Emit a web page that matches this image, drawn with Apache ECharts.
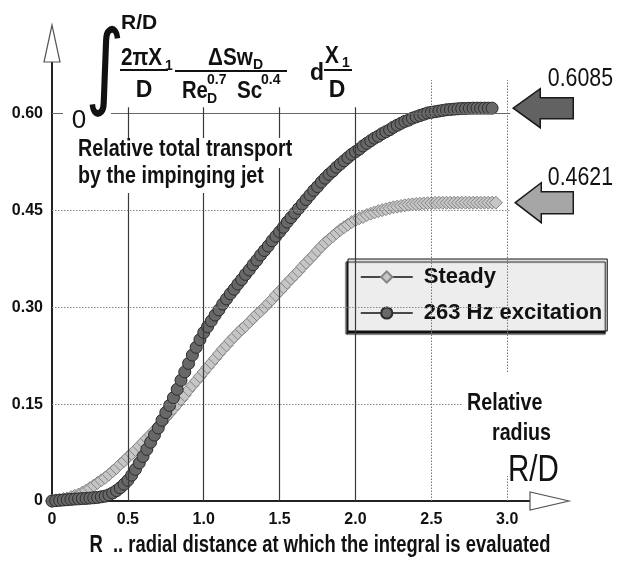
<!DOCTYPE html>
<html>
<head>
<meta charset="utf-8">
<script src="https://cdn.jsdelivr.net/npm/echarts@6/dist/echarts.min.js"></script>
<style>
  html, body { margin: 0; padding: 0; background: #fff; }
  #chart { width: 617px; height: 564px; }
</style>
</head>
<body>
<div id="chart"></div>
<script>
// ---------------- data ----------------
const radiusRD = [
  0.000, 0.025, 0.050, 0.075, 0.100, 0.125, 0.150, 0.175, 0.200, 0.225,
  0.250, 0.275, 0.300, 0.325, 0.350, 0.375, 0.400, 0.425, 0.450, 0.475,
  0.500, 0.525, 0.550, 0.575, 0.600, 0.625, 0.650, 0.675, 0.700, 0.725,
  0.750, 0.775, 0.800, 0.825, 0.850, 0.875, 0.900, 0.925, 0.950, 0.975,
  1.000, 1.025, 1.050, 1.075, 1.100, 1.125, 1.150, 1.175, 1.200, 1.225,
  1.250, 1.275, 1.300, 1.325, 1.350, 1.375, 1.400, 1.425, 1.450, 1.475,
  1.500, 1.525, 1.550, 1.575, 1.600, 1.625, 1.650, 1.675, 1.700, 1.725,
  1.750, 1.775, 1.800, 1.825, 1.850, 1.875, 1.900, 1.925, 1.950, 1.975,
  2.000, 2.025, 2.050, 2.075, 2.100, 2.125, 2.150, 2.175, 2.200, 2.225,
  2.250, 2.275, 2.300, 2.325, 2.350, 2.375, 2.400, 2.425, 2.450, 2.475,
  2.500, 2.525, 2.550, 2.575, 2.600, 2.625, 2.650, 2.675, 2.700, 2.725,
  2.750, 2.775, 2.800, 2.825, 2.850, 2.875, 2.900, 2.925
];

const steadyTransport = [
  0.000, 0.001, 0.002, 0.003, 0.004, 0.006, 0.008, 0.010, 0.013, 0.016,
  0.020, 0.024, 0.028, 0.032, 0.036, 0.041, 0.046, 0.051, 0.057, 0.062,
  0.068, 0.073, 0.079, 0.085, 0.091, 0.097, 0.103, 0.109, 0.115, 0.122,
  0.129, 0.136, 0.143, 0.150, 0.157, 0.164, 0.172, 0.179, 0.186, 0.193,
  0.200, 0.207, 0.214, 0.221, 0.228, 0.235, 0.241, 0.248, 0.254, 0.260,
  0.266, 0.271, 0.277, 0.283, 0.289, 0.294, 0.300, 0.306, 0.312, 0.319,
  0.325, 0.331, 0.338, 0.344, 0.350, 0.356, 0.363, 0.369, 0.375, 0.381,
  0.388, 0.394, 0.400, 0.405, 0.410, 0.415, 0.420, 0.424, 0.428, 0.432,
  0.435, 0.438, 0.440, 0.443, 0.445, 0.447, 0.449, 0.4505, 0.452, 0.4535,
  0.455, 0.456, 0.457, 0.458, 0.459, 0.4595, 0.460, 0.4605, 0.461, 0.4613,
  0.4615, 0.4617, 0.4619, 0.462, 0.462, 0.462, 0.462, 0.462, 0.4621, 0.4621,
  0.4621, 0.4621, 0.4621, 0.4621, 0.4621, 0.4621, 0.4621, 0.4621
];

const excitedTransport = [
  0.000, 0.0005, 0.001, 0.0015, 0.002, 0.0025, 0.003, 0.0033, 0.0037, 0.004,
  0.0045, 0.005, 0.0055, 0.0065, 0.0075, 0.0095, 0.0125, 0.016, 0.0205, 0.026,
  0.032, 0.040, 0.049, 0.059, 0.069, 0.080, 0.091, 0.102, 0.113, 0.125,
  0.137, 0.148, 0.160, 0.173, 0.187, 0.200, 0.213, 0.226, 0.238, 0.250,
  0.261, 0.270, 0.279, 0.288, 0.296, 0.305, 0.313, 0.321, 0.328, 0.336,
  0.343, 0.351, 0.358, 0.366, 0.373, 0.381, 0.388, 0.395, 0.403, 0.410,
  0.417, 0.424, 0.432, 0.439, 0.446, 0.453, 0.460, 0.467, 0.474, 0.481,
  0.487, 0.494, 0.500, 0.506, 0.511, 0.517, 0.522, 0.527, 0.532, 0.537,
  0.541, 0.545, 0.550, 0.554, 0.558, 0.562, 0.565, 0.569, 0.572, 0.575,
  0.579, 0.582, 0.585, 0.588, 0.590, 0.593, 0.595, 0.597, 0.599, 0.601,
  0.602, 0.603, 0.604, 0.605, 0.606, 0.6065, 0.607, 0.6075, 0.608, 0.608,
  0.6083, 0.6085, 0.6085, 0.6085, 0.6085, 0.6085, 0.6085
];

const seriesNames = ['Steady', '263 Hz excitation'];
const finalValues = [0.6085, 0.4621];
const finalLabels = ['0.6085', '0.4621'];

const xTicks = [0, 0.5, 1.0, 1.5, 2.0, 2.5, 3.0];
const xTickLabels = ['0', '0.5', '1.0', '1.5', '2.0', '2.5', '3.0'];
const yTicks = [0, 0.15, 0.30, 0.45, 0.60];
const yTickLabels = ['0', '0.15', '0.30', '0.45', '0.60'];

// ---------------- styling ----------------
const SANS = '"Liberation Sans", Arial, sans-serif';
const NARROW_SCALE = 0.82;   // emulate a condensed face
const X_MAX = 3.15, Y_MAX = 0.68;
const GRID_X_END = 3.02;      // horizontal grid lines stop here
const VLINE_TOP_SOLID = 0.61; // solid vertical grid lines
const VLINE_TOP_DOT = 0.652;  // dotted vertical grid lines

function pair(xs, ys) { return ys.map((v, i) => [xs[i], v]); }
function lookup(ticks, labels) {
  return v => { const i = ticks.findIndex(t => Math.abs(t - v) < 1e-6); return i >= 0 ? labels[i] : ''; };
}

// grid lines as markLines built from tick arrays
const gridLines = [];
yTicks.forEach(t => {
  if (t === 0) return;
  gridLines.push([
    { coord: [0, t], lineStyle: t === 0.60 ? { color: '#666', width: 1, type: 'solid' } : { color: '#888', width: 1, type: [1.5, 1.5] } },
    { coord: [GRID_X_END, t] }
  ]);
});
xTicks.forEach(t => {
  if (t === 0) return;
  const dotted = t >= 2.5;
  gridLines.push([
    { coord: [t, 0], lineStyle: dotted ? { color: '#777', width: 1, type: [1.5, 1.5] } : { color: '#3a3a3a', width: 1.2, type: 'solid' } },
    { coord: [t, dotted ? VLINE_TOP_DOT : VLINE_TOP_SOLID] }
  ]);
});

const chart = echarts.init(document.getElementById('chart'), null, { renderer: 'canvas' });

const option = {
  animation: false,
  backgroundColor: '#ffffff',
  grid: { left: 52, right: 87, top: 62, bottom: 63, containLabel: false, outerBoundsMode: 'none' },
  xAxis: {
    type: 'value', min: 0, max: X_MAX, interval: 0.5,
    axisLine: { show: true, lineStyle: { color: '#222', width: 2 } },
    axisTick: { show: false },
    splitLine: { show: false },
    axisLabel: { show: true, margin: 11, color: '#111', fontFamily: SANS, fontWeight: 'bold', fontSize: 16,
      formatter: lookup(xTicks, xTickLabels) }
  },
  yAxis: {
    type: 'value', min: 0, max: Y_MAX, interval: 0.15,
    axisLine: { show: true, lineStyle: { color: '#222', width: 2 } },
    axisTick: { show: false },
    splitLine: { show: false },
    axisLabel: { show: true, margin: 9, color: '#111', fontFamily: SANS, fontWeight: 'bold', fontSize: 16,
      formatter: lookup(yTicks, yTickLabels) }
  },
  legend: {
    orient: 'vertical', left: 348, top: 259,
    padding: [7, 5, 7, 12], itemGap: 14,
    itemWidth: 52, itemHeight: 14,
    backgroundColor: '#ededed', borderColor: '#111', borderWidth: 1,
    shadowColor: '#111', shadowBlur: 1, shadowOffsetX: -2, shadowOffsetY: 3,
    textStyle: { color: '#111', fontFamily: SANS, fontWeight: 'bold', fontSize: 22, padding: [0, 0, 0, 6] },
    data: [
      { name: seriesNames[0], lineStyle: { color: '#111', width: 1.5, opacity: 1 } },
      { name: seriesNames[1], lineStyle: { color: '#111', width: 1.5, opacity: 1 } }
    ]
  },
  series: [
    {
      name: '_grid', type: 'line', data: [], z: 1, silent: true,
      markLine: { silent: true, symbol: 'none', label: { show: false }, animation: false, data: gridLines }
    },
    {
      name: seriesNames[0], type: 'line', z: 3,
      data: pair(radiusRD, steadyTransport),
      symbol: 'diamond', symbolSize: 13, showSymbol: true,
      lineStyle: { width: 0, opacity: 0 },
      itemStyle: { color: '#c6c6c6', borderColor: '#858585', borderWidth: 1 }
    },
    {
      name: seriesNames[1], type: 'line', z: 4,
      data: pair(radiusRD, excitedTransport),
      symbol: 'circle', symbolSize: 12, showSymbol: true,
      lineStyle: { width: 0, opacity: 0 },
      itemStyle: { color: '#686868', borderColor: '#2c2c2c', borderWidth: 1 }
    }
  ]
};
chart.setOption(option);

// ---------------- annotations ----------------
function px(x, y) { return chart.convertToPixel({ gridIndex: 0 }, [x, y]); }
const origin = px(0, 0), yTop = px(0, Y_MAX), xEnd = px(X_MAX, 0);
const tipDark = px(GRID_X_END, finalValues[0]);
const tipLight = px(GRID_X_END, finalValues[1]);

function txt(text, x, y, size, opts) {
  opts = opts || {};
  return {
    type: 'text', x: x, y: y, z: opts.z || 20, silent: true,
    scaleX: opts.sx || 1,
    style: {
      text: text, fill: opts.fill || '#111',
      font: (opts.weight || 'bold') + ' ' + size + 'px ' + (opts.family || SANS),
      align: opts.align || 'left', verticalAlign: opts.va || 'middle'
    }
  };
}
function rect(x, y, w, h, fill, z) {
  return { type: 'rect', z: z || 10, silent: true, shape: { x: x, y: y, width: w, height: h }, style: { fill: fill, stroke: null } };
}
function arrowLeft(tip, headLen, headHalf, shaftHalf, shaftLen, fill) {
  const [tx, ty] = tip;
  const bx = tx + headLen;
  return {
    type: 'polygon', z: 20, silent: true,
    shape: { points: [[tx, ty], [bx, ty - headHalf], [bx, ty - shaftHalf], [bx + shaftLen, ty - shaftHalf],
      [bx + shaftLen, ty + shaftHalf], [bx, ty + shaftHalf], [bx, ty + headHalf]] },
    style: { fill: fill, stroke: '#1a1a1a', lineWidth: 1.5 }
  };
}

const N = NARROW_SCALE;
const g = [];
// axis arrow heads (hollow)
g.push({ type: 'polygon', z: 20, silent: true,
  shape: { points: [[origin[0], yTop[1] - 37], [origin[0] - 8, yTop[1]], [origin[0] + 8, yTop[1]]] },
  style: { fill: '#fff', stroke: '#555', lineWidth: 1.2 } });
g.push({ type: 'polygon', z: 20, silent: true,
  shape: { points: [[xEnd[0] + 39, origin[1]], [xEnd[0], origin[1] - 9], [xEnd[0], origin[1] + 9]] },
  style: { fill: '#fff', stroke: '#555', lineWidth: 1.2 } });

// white masks behind texts
g.push(rect(63, 108, 48, 12, '#fff'));
g.push(rect(76, 138, 224, 30, '#fff'));
g.push(rect(76, 168, 192, 25, '#fff'));
g.push(rect(463, 372, 100, 104, '#fff'));

// integral formula
g.push(txt('R/D', 121, 23, 21));
g.push(txt('\u222B', 105, 73, 94, { family: '"DejaVu Sans", sans-serif', weight: 'normal', align: 'center', sx: 0.8 }));
g.push(txt('0', 79, 121, 26, { weight: 'normal', align: 'center' }));
g.push(txt('2\u03C0X', 121, 59, 23, { sx: 0.9 }));
g.push(txt('1', 165, 66, 14));
g.push(rect(120, 69, 48, 2, '#111', 20));
g.push(txt('D', 144, 91, 23, { align: 'center' }));
g.push(txt('\u0394Sw', 208, 59, 23, { sx: 0.9 }));
g.push(txt('D', 253, 65, 14));
g.push(rect(175, 70, 112, 2, '#111', 20));
g.push(txt('Re', 182, 92, 23, { sx: 0.88 }));
g.push(txt('0.7', 207, 80, 14));
g.push(txt('D', 207, 99, 14));
g.push(txt('Sc', 237, 92, 23, { sx: 0.9 }));
g.push(txt('0.4', 261, 80, 14));
g.push(txt('d', 310, 74, 23));
g.push(txt('X', 325, 57, 23, { sx: 0.9 }));
g.push(txt('1', 342, 63, 14));
g.push(rect(324, 69, 28, 2, '#111', 20));
g.push(txt('D', 337, 91, 23, { align: 'center' }));

// descriptive texts
g.push(txt('Relative total transport', 78, 149, 24, { sx: N }));
g.push(txt('by the impinging jet', 78, 176, 24, { sx: N }));
g.push(txt('Relative', 467, 403, 24, { sx: N }));
g.push(txt('radius', 492, 433, 24, { sx: N }));
g.push(txt('R/D', 508, 471, 36, { weight: 'normal', sx: N }));
// x-axis title
g.push(txt('R  .. radial distance at which the integral is evaluated', 320, 546, 23, { sx: 0.8, align: 'center' }));

// final value arrows
g.push(arrowLeft([tipDark[0] + 3, tipDark[1]], 27, 19.5, 10.5, 33, '#626262'));
g.push(arrowLeft([tipLight[0] + 5, tipLight[1]], 26, 20, 11, 32, '#a6a6a6'));
g.push(txt(finalLabels[0], 613, tipDark[1] - 29, 26, { weight: 'normal', align: 'right', sx: N }));
g.push(txt(finalLabels[1], 613, tipLight[1] - 25, 26, { weight: 'normal', align: 'right', sx: N }));

chart.setOption({ graphic: { elements: g } });
</script>
</body>
</html>
